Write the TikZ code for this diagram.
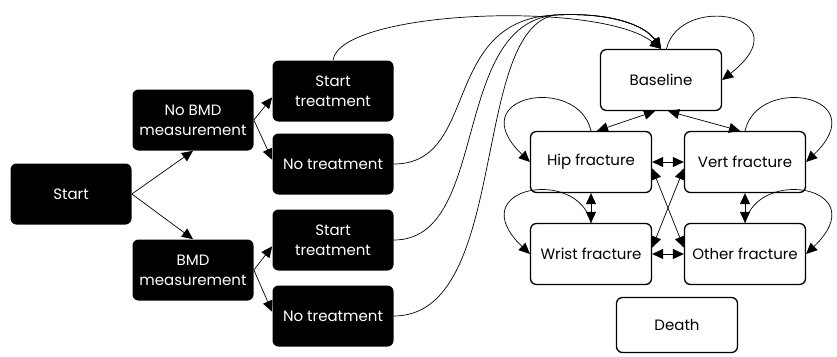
\documentclass[tikz,border=0pt]{standalone}
\usepackage{fontspec}
\setmainfont{Poppins}
\usetikzlibrary{arrows.meta}

\begin{document}
\begin{tikzpicture}[x=1pt,y=-1pt,line join=round,line width=0.7pt,>={Triangle[length=11pt,width=10pt]},
  darkbox/.style={fill=black,text=white,rounded corners=6pt,minimum width=121pt,minimum height=61pt,inner sep=0pt,align=center,font=\fontsize{15}{20}\selectfont},
  statebox/.style={draw=black,line width=1.3pt,fill=white,rounded corners=6pt,minimum width=121pt,minimum height=61pt,inner sep=0pt,align=center,font=\fontsize{15}{20}\selectfont}]
\useasboundingbox (0,0) rectangle (837,356);

% decision tree
\node[darkbox] (start) at (71,194) {Start};
\node[darkbox] (nobmd) at (193,120) {No BMD\\measurement};
\node[darkbox] (bmd) at (193,270) {BMD\\measurement};
\node[darkbox] (treat1) at (333,91) {Start\\treatment};
\node[darkbox] (notreat1) at (333,164) {No treatment};
\node[darkbox] (treat2) at (333,240) {Start\\treatment};
\node[darkbox] (notreat2) at (333,316) {No treatment};

% markov states
\node[statebox] (base) at (661,80) {Baseline};
\node[statebox] (hip) at (591,162) {Hip fracture};
\node[statebox] (vert) at (745,162) {Vert fracture};
\node[statebox] (wrist) at (591,254) {Wrist fracture};
\node[statebox] (other) at (745,254) {Other fracture};
\node[statebox,minimum height=55pt] (death) at (677,325) {Death};

\draw[->] (start.east) -- (nobmd.south);
\draw[->] (start.east) -- (bmd.north);
\draw[->] (nobmd.east) -- (treat1.186);
\draw[->] (nobmd.east) -- (notreat1.176);
\draw[->] (bmd.east) -- (treat2.186);
\draw[->] (bmd.east) -- (notreat2.176);

\draw[->] (treat1.north) .. controls (340,10) and (600,0) .. (base.north);
\draw[->] (notreat1.east) .. controls (480,164) and (440,20) .. (555,15) .. controls (610,12) and (645,25) .. (base.north);
\draw[->] (treat2.east) .. controls (490,240) and (450,25) .. (555,15) .. controls (610,12) and (645,25) .. (base.north);
\draw[->] (notreat2.east) .. controls (510,316) and (470,30) .. (555,15) .. controls (610,12) and (645,25) .. (base.north);

\draw[->] (base.80) .. controls (680,-8) and (805,15) .. (base.east);
\draw[->] (hip.north) .. controls (578,74) and (460,95) .. (hip.west);
\draw[->] (wrist.north) .. controls (578,166) and (460,187) .. (wrist.west);
\draw[->] (vert.north) .. controls (758,74) and (876,95) .. (vert.east);
\draw[->] (other.north) .. controls (758,166) and (876,187) .. (other.east);

\draw[<->] (base.259) -- (hip.79);
\draw[<->] (base.283) -- (vert.99);
\draw[<->] (hip.east) -- (vert.west);
\draw[<->] (wrist.east) -- (other.west);
\draw[<->] (hip.south) -- (wrist.north);
\draw[<->] (vert.south) -- (other.north);
\draw[<->] (hip.354) -- (other.174);
\draw[<->] (wrist.6) -- (vert.186);
\end{tikzpicture}
\end{document}
